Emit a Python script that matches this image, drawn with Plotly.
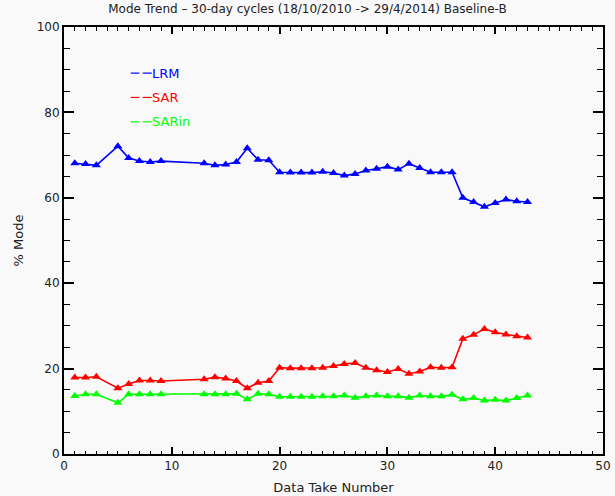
import plotly.graph_objects as go

x = [1, 2, 3, 5, 6, 7, 8, 9, 13, 14, 15, 16, 17, 18, 19, 20, 21, 22, 23, 24, 25,
     26, 27, 28, 29, 30, 31, 32, 33, 34, 35, 36, 37, 38, 39, 40, 41, 42, 43]
lrm = [68.1, 67.9, 67.6, 72.1, 69.3, 68.6, 68.4, 68.6, 68.1, 67.6, 67.8, 68.4, 71.6, 68.9, 68.8,
       66.0, 65.9, 65.9, 65.9, 66.1, 65.8, 65.2, 65.6, 66.4, 66.8, 67.3, 66.6, 68.0, 67.0,
       66.0, 66.0, 66.0, 60.0, 59.0, 57.9, 58.8, 59.6, 59.2, 59.0]
sar = [17.9, 17.9, 18.1, 15.4, 16.4, 17.2, 17.2, 17.1, 17.5, 18.0, 17.7, 17.1, 15.4, 16.7, 17.1,
       20.2, 20.1, 20.1, 20.1, 20.2, 20.6, 21.1, 21.3, 20.2, 19.6, 19.2, 19.9, 18.8, 19.3,
       20.3, 20.2, 20.3, 27.0, 27.9, 29.3, 28.5, 28.0, 27.6, 27.3]
sarin = [13.6, 14.0, 14.0, 12.0, 14.0, 14.0, 14.0, 14.0, 14.0, 14.0, 14.0, 14.1, 12.8, 14.1, 14.0,
         13.4, 13.4, 13.4, 13.4, 13.5, 13.5, 13.7, 13.2, 13.5, 13.7, 13.5, 13.5, 13.2, 13.7,
         13.5, 13.5, 13.9, 12.8, 13.1, 12.5, 12.7, 12.5, 13.1, 13.7]

series = [("LRM", lrm, "#0000ff"), ("SAR", sar, "#ff0000"), ("SARin", sarin, "#00ff00")]
legend_y = [89.2, 83.5, 77.8]

fig = go.Figure()
for name, vals, col in series:
    fig.add_trace(go.Scatter(x=x, y=vals, mode="lines+markers", name=name,
                             line=dict(color=col, width=1.6),
                             marker=dict(symbol="triangle-up", size=8, color=col)))

# legend drawn like the original: two short dashes then the coloured label
for (name, vals, col), ly in zip(series, legend_y):
    for x0, x1 in [(6.19, 6.99), (7.30, 8.14)]:
        fig.add_shape(type="line", xref="x", yref="y", x0=x0, x1=x1, y0=ly, y1=ly,
                      line=dict(color=col, width=1.2))
    fig.add_annotation(x=8.05, y=ly, xref="x", yref="y", text=name, borderpad=0,
                       showarrow=False, xanchor="left", yanchor="middle",
                       font=dict(color=col, size=13, family="DejaVu Sans"))

common = dict(showgrid=False, zeroline=False, showline=True, linecolor="black",
              linewidth=2, ticks="inside", tickcolor="black", tickwidth=1.5,
              automargin=False)
xminor = dict(dtick=1, ticks="inside", ticklen=3.5, tickcolor="black", tickwidth=1)
yminor = dict(dtick=5, ticks="inside", ticklen=6, tickcolor="black", tickwidth=1)
xt = [0, 10, 20, 30, 40, 50]
yt = [0, 20, 40, 60, 80, 100]

fig.update_layout(
    xaxis=dict(range=[0, 50], tickvals=xt, minor=xminor, ticklen=7,
               title=dict(text="Data Take Number", standoff=10, font=dict(size=13, color="#222")),
               **common),
    yaxis=dict(range=[0, 100], tickvals=yt, minor=yminor, ticklen=10,
               title=dict(text="% Mode", standoff=10, font=dict(size=13, color="#222")),
               **common),
    xaxis2=dict(range=[0, 50], tickvals=xt, minor=xminor, ticklen=7, overlaying="x",
                side="top", anchor="y", showticklabels=False, **common),
    yaxis2=dict(range=[0, 100], tickvals=yt, minor=yminor, ticklen=10, overlaying="y",
                side="right", anchor="x", showticklabels=False, **common),
)
fig.add_trace(go.Scatter(x=[None], y=[None], xaxis="x2", yaxis="y2", showlegend=False,
                         hoverinfo="skip"))

fig.update_layout(
    width=615, height=496,
    margin=dict(l=64, r=12, t=27, b=42),
    paper_bgcolor="#f9f9f9", plot_bgcolor="#f9f9f9",
    showlegend=False,
    font=dict(family="DejaVu Sans", size=12, color="#222"),
    title=dict(text="Mode Trend \u2013 30-day cycles (18/10/2010 -> 29/4/2014) Baseline-B",
               x=0.5, xanchor="center", y=0.99, yanchor="top",
               font=dict(size=12, color="#222")),
)

fig.write_html("out.html", config={"displayModeBar": False},
               post_script="document.body.style.margin='0';document.body.style.background='#f9f9f9';")
